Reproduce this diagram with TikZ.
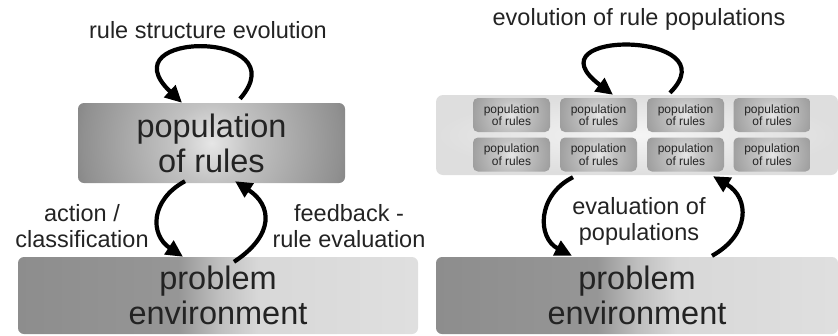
\documentclass[tikz,border=0pt]{standalone}
\usepackage{fontspec}
\setmainfont{Liberation Sans}
\usetikzlibrary{arrows.meta,calc}

\definecolor{inkColor}{RGB}{35,35,35}
\definecolor{glowA}{RGB}{230,230,230}
\definecolor{glowB}{RGB}{194,194,194}
\definecolor{glowC}{RGB}{144,144,144}
\definecolor{glowD}{RGB}{130,130,130}
\definecolor{frameInner}{RGB}{245,245,245}
\definecolor{frameOuter}{RGB}{222,222,222}
\definecolor{envDark}{RGB}{130,130,130}
\definecolor{envMid}{RGB}{150,150,150}
\definecolor{envSeam}{RGB}{190,190,190}
\definecolor{envLight}{RGB}{216,216,216}
\definecolor{envLighter}{RGB}{232,232,232}

\pgfdeclarehorizontalshading{envshade}{100bp}{color(0bp)=(envDark); color(45bp)=(envMid); color(50bp)=(envSeam); color(55bp)=(envLight); color(100bp)=(envLighter)}
\pgfdeclareradialshading{popglow}{\pgfpoint{0bp}{0bp}}{color(0bp)=(glowA); color(7bp)=(glowB); color(23bp)=(glowC); color(26bp)=(glowD); color(50bp)=(glowD)}

\tikzset{
  glow/.style={path picture={\shade[shading=popglow] (path picture bounding box.center) circle (#1);}},
  popbox/.style={rounded corners=6pt, inner sep=0pt, glow=140pt,
    text=inkColor, align=center, font=\fontsize{32.5}{35}\selectfont},
  envbox/.style={rounded corners=6pt, inner sep=0pt, shading=envshade,
    text=inkColor, align=center, font=\fontsize{32.5}{35}\selectfont},
  framebox/.style={rounded corners=7pt, inner sep=0pt, inner color=frameInner, outer color=frameOuter},
  popcell/.style={rounded corners=5pt, inner sep=0pt, minimum width=77pt, minimum height=34pt,
    glow=54pt, text=inkColor, align=center, font=\fontsize{12}{12.5}\selectfont},
  lbl/.style={inner sep=0pt, text=inkColor, align=center, font=\fontsize{23.5}{26}\selectfont},
  arr/.style={line width=4.2pt, draw=black, -{Triangle[length=17pt,width=16pt]}}
}

\begin{document}
\begin{tikzpicture}[x=1pt,y=-1pt]
\useasboundingbox (0,0) rectangle (838,335);

\node[popbox, minimum width=267pt, minimum height=80pt] (popL) at (211.5,143) {population\\of rules};
\node[envbox, minimum width=400pt, minimum height=77pt] (envL) at (218,295.5) {problem\\environment};

\node[framebox, minimum width=402pt, minimum height=80pt] (frameR) at (637,135) {};
\foreach \c [count=\i] in {511.5,598.5,685.5,772} {
  \node[popcell] (cellA\i) at (\c,115) {population\\of rules};
  \node[popcell] (cellB\i) at (\c,154.5) {population\\of rules};
}
\node[envbox, minimum width=402pt, minimum height=77pt] (envR) at (637,295.5) {problem\\environment};

\node[lbl, anchor=base] (titleL) at (208,38) {rule structure evolution};
\node[lbl, anchor=base] (titleR) at (639,25) {evolution of rule populations};
\node[lbl] (actionLbl) at (82,226) {action /\\classification};
\node[lbl] (feedbackLbl) at (349,226) {feedback -\\rule evaluation};
\node[lbl] (evalLbl) at (639,221) {evaluation of\\populations};

\draw[arr] ($(popL.north)+(28.5,-4)$) .. controls +(60,-69) and +(-77,-73) .. ($(popL.north)+(-29.5,0)$);
\draw[arr] ($(popL.south)+(-26.5,-2)$) .. controls +(-35,19) and +(-33,-22) .. ($(envL.north)+(-35,0)$);
\draw[arr] ($(envL.north)+(16,5)$) .. controls +(41,-27) and +(37,24) .. ($(popL.south)+(23.5,-2)$);

\draw[arr] ($(frameR.north)+(33,-2)$) .. controls +(62,-62) and +(-88,-66) .. ($(frameR.north)+(-24,0)$);
\draw[arr] ($(frameR.south)+(-64,2)$) .. controls +(-36,18) and +(-35,-18) .. ($(envR.north)+(-65,-1)$);
\draw[arr] ($(envR.north)+(75,-1)$) .. controls +(38,-21) and +(37,22) .. ($(frameR.south)+(76,1)$);
\end{tikzpicture}
\end{document}
